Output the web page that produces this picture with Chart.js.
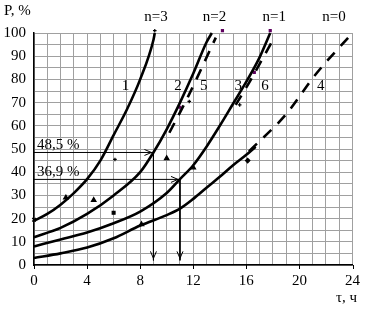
<!DOCTYPE html>
<html>
<head>
<meta charset="utf-8">
<script src="https://cdn.jsdelivr.net/npm/chart.js@4"></script>
<style>
  html, body { margin: 0; padding: 0; background: #fff; }
  #wrap { width: 367px; height: 315px; }
</style>
</head>
<body>
<div id="wrap"><canvas id="chart" width="367" height="315"></canvas></div>
<script>
// кривые P(τ), τ в часах, P в %
const curve1T = [0, 1, 2, 3, 4, 5, 6, 7, 8, 9, 9.1];
const curve1P = [19, 22, 26, 31, 37, 45, 56, 67, 80, 97, 100];
const curve2T = [0, 2, 4, 6, 8, 9, 10, 11, 12, 13, 13.4];
const curve2P = [12, 16, 22, 30, 40, 48.5, 58.5, 70, 82.5, 96, 100];
const curve3T = [0, 2, 4, 6, 8, 10, 11, 12, 13, 14, 15, 16, 17, 17.8];
const curve3P = [8, 11, 14, 18, 23, 31, 37, 43, 51, 60, 69.5, 79, 89.5, 100];
const curve4T = [0, 2, 4, 6, 8, 10, 11, 12, 13, 14, 15, 16, 16.7];
const curve4P = [3, 5, 7.5, 11.5, 17, 21.5, 24.3, 28.5, 33.3, 38, 43, 47.5, 51];
const curve4dT = [16.2, 19, 21.2, 24];
const curve4dP = [49, 65, 82, 100];
const curve5T = [10.2, 11.6, 13.7];
const curve5P = [57, 72.5, 98];
const curve6T = [15.2, 16.3, 18];
const curve6P = [69, 79.5, 97];

// экспериментальные точки
const triT = [4.5, 10, 12, 2.4, 8.1];
const triP = [28, 46, 42, 29, 17.5];
const sqT = [6];
const sqP = [22.5];
const plusT = [6.1, 11.7, 15.5, 9.1];
const plusP = [45.5, 70.5, 69, 101];
const crossT = [0];
const crossP = [19.5];
const diamT = [16.1];
const diamP = [45];
const dotT = [11, 14.2, 17.8, 16.6];
const dotP = [68, 101, 101, 83];

// отметки 48,5 % и 36,9 %
const markLevels = [48.5, 36.9];
const markTimes = [9, 11];
const markTexts = ['48,5 %', '36,9 %'];
const arrowBottom = 2;

// подписи кривых
const curveLabels = ['1', '2', '5', '3', '6', '4'];
const curveLabelT = [6.9, 10.85, 12.8, 15.4, 17.4, 21.6];
const curveLabelP = [77, 77, 77, 77, 77, 77];
const nLabels = ['n=3', 'n=2', 'n=1', 'n=0'];
const nLabelT = [9.2, 13.6, 18.1, 22.6];

const xTicks = [0, 4, 8, 12, 16, 20, 24];

const FONT = '"Liberation Serif", "Times New Roman", serif';

function pts(ts, ps) {
    return ts.map((t, i) => ({ x: t, y: ps[i] }));
}

function curve(ts, ps, dashed) {
    return {
        type: 'line',
        data: pts(ts, ps),
        borderColor: '#000',
        borderWidth: 2.6,
        borderDash: dashed ? [11, 9] : [],
        pointRadius: 0,
        cubicInterpolationMode: 'monotone',
        clip: false
    };
}

function marks(ts, ps, style, radius, color) {
    return {
        type: 'scatter',
        data: pts(ts, ps),
        pointStyle: style,
        pointRadius: radius,
        backgroundColor: color || '#000',
        borderColor: color || '#000',
        borderWidth: 1.2,
        clip: false
    };
}

const datasets = [
    curve(curve1T, curve1P, false),
    curve(curve2T, curve2P, false),
    curve(curve3T, curve3P, false),
    curve(curve4T, curve4P, false),
    curve(curve4dT, curve4dP, true),
    curve(curve5T, curve5P, true),
    curve(curve6T, curve6P, true),
    marks(triT, triP, 'triangle', 2.6),
    marks(sqT, sqP, 'rect', 2),
    marks(plusT, plusP, 'cross', 1.8),
    marks(crossT, crossP, 'crossRot', 2.5),
    marks(diamT, diamP, 'rectRot', 2.2),
    marks(dotT, dotP, 'rect', 1.4, '#600060')
];

// линии-указатели
markLevels.forEach((p, i) => {
    datasets.push({
        type: 'line',
        data: pts([0, markTimes[i], markTimes[i]], [p, p, arrowBottom]),
        borderColor: '#000',
        borderWidth: 1,
        pointRadius: 0,
        tension: 0
    });
});

const decorPlugin = {
    id: 'decor',
    afterDatasetsDraw(chart) {
        const ctx = chart.ctx;
        const xs = chart.scales.x;
        const ys = chart.scales.y;
        ctx.save();
        ctx.strokeStyle = '#000';
        ctx.fillStyle = '#000';
        ctx.lineWidth = 1;

        // стрелки
        markLevels.forEach((p, i) => {
            const xe = xs.getPixelForValue(markTimes[i]);
            const ye = ys.getPixelForValue(p);
            ctx.beginPath();
            ctx.moveTo(xe - 9, ye - 3);
            ctx.lineTo(xe - 2, ye);
            ctx.lineTo(xe - 9, ye + 3);
            ctx.stroke();
            const yb = ys.getPixelForValue(arrowBottom);
            ctx.beginPath();
            ctx.moveTo(xe - 3, yb - 9);
            ctx.lineTo(xe, yb - 2);
            ctx.lineTo(xe + 3, yb - 9);
            ctx.stroke();
        });

        // метки делений на оси x
        xTicks.forEach(t => {
            const x = Math.round(xs.getPixelForValue(t)) + 0.5;
            ctx.beginPath();
            ctx.moveTo(x, ys.bottom);
            ctx.lineTo(x, ys.bottom + 4);
            ctx.stroke();
        });

        ctx.font = '15px ' + FONT;
        ctx.textBaseline = 'alphabetic';
        ctx.textAlign = 'left';
        markTexts.forEach((txt, i) => {
            ctx.fillText(txt, xs.left + 3, ys.getPixelForValue(markLevels[i]) - 3);
        });

        ctx.textAlign = 'center';
        ctx.textBaseline = 'middle';
        curveLabels.forEach((txt, i) => {
            const x = xs.getPixelForValue(curveLabelT[i]);
            const y = ys.getPixelForValue(curveLabelP[i]);
            ctx.fillText(txt, x, y);
        });

        nLabels.forEach((txt, i) => {
            ctx.fillText(txt, xs.getPixelForValue(nLabelT[i]), 17);
        });

        ctx.textAlign = 'left';
        ctx.fillText('P, %', 4, 11);
        ctx.fillText('τ, ч', 336, 298);
        ctx.restore();
    }
};

new Chart(document.getElementById('chart'), {
    type: 'line',
    data: { datasets: datasets },
    options: {
        responsive: false,
        animation: false,
        events: [],
        layout: { padding: { top: 33, right: 10, left: 0, bottom: 0 } },
        plugins: {
            legend: { display: false },
            tooltip: { enabled: false }
        },
        scales: {
            x: {
                type: 'linear',
                min: 0,
                max: 24,
                afterFit: s => { s.height = 50; },
                ticks: {
                    stepSize: 1,
                    autoSkip: false,
                    maxRotation: 0,
                    padding: 7,
                    color: '#000',
                    font: { family: FONT, size: 15 },
                    callback: v => (v % 4 === 0 ? v : '')
                },
                grid: { color: '#a0a0a0', lineWidth: 1, drawTicks: false },
                border: { color: '#000', width: 1.5 }
            },
            y: {
                type: 'linear',
                min: 0,
                max: 100,
                afterFit: s => { s.width = 34; },
                ticks: {
                    stepSize: 5,
                    autoSkip: false,
                    padding: 8,
                    color: '#000',
                    font: { family: FONT, size: 15 },
                    callback: v => (v % 10 === 0 ? v : '')
                },
                grid: { color: '#a0a0a0', lineWidth: 1, drawTicks: false },
                border: { color: '#000', width: 1.5 }
            }
        }
    },
    plugins: [decorPlugin]
});
</script>
</body>
</html>
